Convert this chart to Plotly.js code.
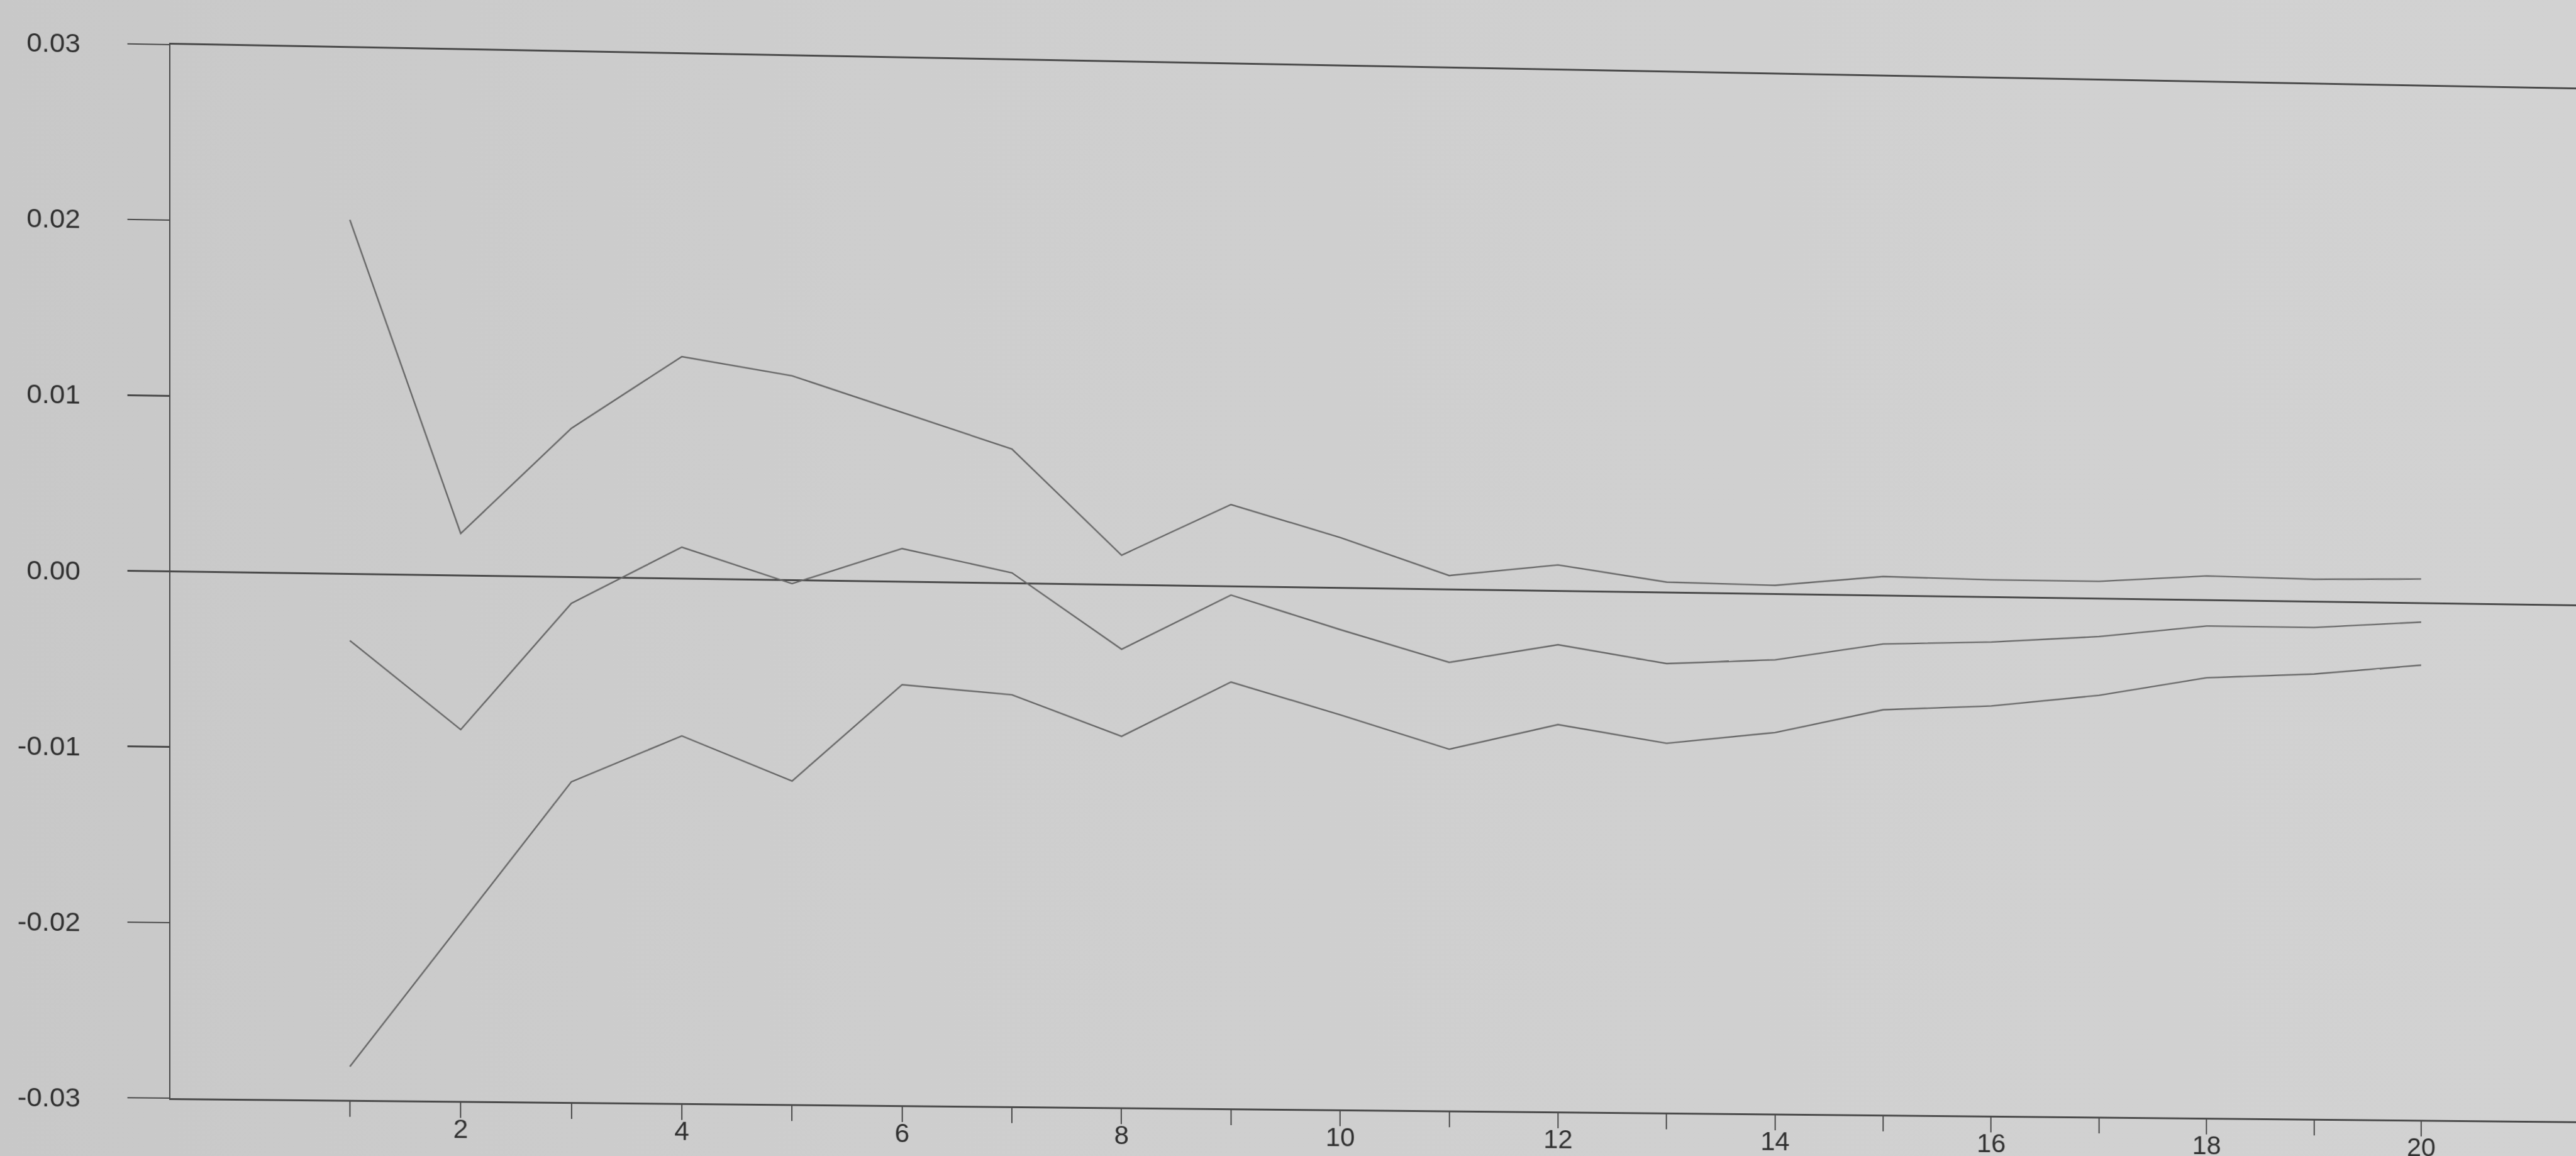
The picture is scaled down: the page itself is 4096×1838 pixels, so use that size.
<!DOCTYPE html>
<html>
<head>
<meta charset="utf-8">
<script src="https://cdn.plot.ly/plotly-3.0.1.min.js"></script>
<style>
  html, body {
    margin: 0;
    padding: 0;
    width: 4096px;
    height: 1838px;
    overflow: hidden;
    background: linear-gradient(90deg, #c8c8c8 0%, #cecece 35%, #d2d2d2 100%);
  }
  /* the printed sheet sits at a slight angle: its right side is lower and a little farther away */
  #chart {
    width: 4096px;
    height: 1838px;
    transform-origin: 0 0;
    transform: matrix3d(1.023906, 0.019394, 0, 0.0000054743,
                        0, 1.0014835, 0, 0,
                        0, 0, 1, 0,
                        -6.077, -5.2557, 0, 1);
  }
</style>
</head>
<body>
<div id="chart"></div>
<script>
// Impulse response over 20 periods with its upper and lower bands
const periods = [1, 2, 3, 4, 5, 6, 7, 8, 9, 10, 11, 12, 13, 14, 15, 16, 17, 18, 19, 20];

const upperBand = [0.0202, 0.0024, 0.0085, 0.0127, 0.0117, 0.0097, 0.0077, 0.0017, 0.0047, 0.0029,
                   0.0008, 0.0015, 0.0006, 0.0005, 0.0011, 0.0010, 0.0010, 0.0014, 0.0013, 0.0014];

const response = [-0.0038, -0.0088, -0.0015, 0.0018, -0.0002, 0.0019, 0.0006, -0.0037, -0.0005, -0.0024,
                  -0.0042, -0.0031, -0.0041, -0.0038, -0.0028, -0.0026, -0.0022, -0.0015, -0.0015, -0.0011];

const lowerBand = [-0.0281, -0.0199, -0.0117, -0.0090, -0.0115, -0.0059, -0.0064, -0.0087, -0.0055, -0.0073,
                   -0.0092, -0.0077, -0.0087, -0.0080, -0.0066, -0.0063, -0.0056, -0.0045, -0.0042, -0.0036];

// x ticks on every period, labels on even ones
const xTickVals = periods;
const xTickText = ['', '2', '', '4', '', '6', '', '8', '', '10', '', '12', '', '14', '', '16', '', '18', '', '20'];

const yTickVals = [0.03, 0.02, 0.01, 0, -0.01, -0.02, -0.03];
const yTickText = ['0.03', '0.02', '0.01', '0.00', '-0.01', '-0.02', '-0.03'];

const inkLine = '#666666';
const axisInk = '#4a4a4a';

function series(values) {
  return {
    x: periods,
    y: values,
    type: 'scatter',
    mode: 'lines',
    line: { color: inkLine, width: 2.4 },
    hoverinfo: 'skip'
  };
}

const data = [series(upperBand), series(response), series(lowerBand)];

const layout = {
  width: 4096,
  height: 1838,
  margin: { l: 271, r: 0, t: 71, b: 92, pad: 0 },
  paper_bgcolor: 'rgba(0,0,0,0)',
  plot_bgcolor: 'rgba(0,0,0,0)',
  showlegend: false,
  font: { family: 'Liberation Sans, Arial, sans-serif', size: 44, color: '#303030' },
  xaxis: {
    range: [-0.6143, 21.4479],
    tickmode: 'array',
    tickvals: xTickVals,
    ticktext: xTickText,
    ticks: 'outside',
    ticklen: 24,
    tickwidth: 2,
    tickcolor: axisInk,
    ticklabelstandoff: -18,
    showgrid: false,
    zeroline: false,
    showline: true,
    mirror: true,
    linecolor: axisInk,
    linewidth: 3,
    tickfont: { size: 42 }
  },
  yaxis: {
    range: [-0.03, 0.03],
    tickmode: 'array',
    tickvals: yTickVals,
    ticktext: yTickText,
    ticks: 'outside',
    ticklen: 65,
    tickwidth: 2.5,
    tickcolor: axisInk,
    ticklabelstandoff: 64,
    showgrid: false,
    zeroline: true,
    zerolinecolor: axisInk,
    zerolinewidth: 3,
    showline: true,
    mirror: false,
    linecolor: axisInk,
    linewidth: 2.5,
    tickfont: { size: 43 }
  }
};

Plotly.newPlot('chart', data, layout, { staticPlot: true, displayModeBar: false });
</script>
</body>
</html>
